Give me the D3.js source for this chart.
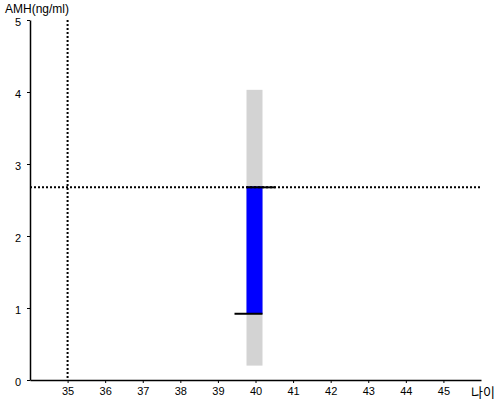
<!DOCTYPE html>
<html>
<head>
<meta charset="utf-8">
<script src="https://cdn.jsdelivr.net/npm/d3@7"></script>
<style>
  body { margin: 0; background: #fff; }
  text { font-family: "Liberation Sans", Arial, sans-serif; }
</style>
</head>
<body>
<div id="viz"></div>
<script>
// values
var ages = [40];
var rangeLow = [0.2],  rangeHigh = [4.03];   // grey band
var valLow = [0.92],   valHigh = [2.69];     // blue bar
var refAge = 35, refAmh = 2.69;
var xTicks = [35, 36, 37, 38, 39, 40, 41, 42, 43, 44, 45];
var yTicks = [0, 1, 2, 3, 4, 5];

var width = 500, height = 400;

var x = d3.scaleLinear().domain([34, 46]).range([30, 481]);
var y = d3.scaleLinear().domain([0, 5]).range([380, 20]);
var barW = 16;

var svg = d3.select('#viz').append('svg')
    .attr('width', width)
    .attr('height', height);

// grey band
svg.selectAll('rect.band').data(ages)
  .enter().append('rect')
    .attr('class', 'band')
    .attr('x', function(d) { return x(d) - barW / 2 - 1; })
    .attr('width', barW)
    .attr('y', function(d, i) { return y(rangeHigh[i]); })
    .attr('height', function(d, i) { return y(rangeLow[i]) - y(rangeHigh[i]); })
    .attr('fill', '#d3d3d3');

// blue bar
svg.selectAll('rect.val').data(ages)
  .enter().append('rect')
    .attr('class', 'val')
    .attr('x', function(d) { return x(d) - barW / 2 - 1; })
    .attr('width', barW)
    .attr('y', function(d, i) { return y(valHigh[i]); })
    .attr('height', function(d, i) { return y(valLow[i]) - y(valHigh[i]); })
    .attr('fill', '#0000ff');

// reference dotted lines
svg.append('line')
    .attr('x1', x(refAge)).attr('x2', x(refAge))
    .attr('y1', y(5)).attr('y2', y(0))
    .attr('stroke', '#000').attr('stroke-width', 2)
    .attr('stroke-dasharray', '2,2');

svg.append('line')
    .attr('x1', x(34)).attr('x2', 481)
    .attr('y1', y(refAmh) + 1).attr('y2', y(refAmh) + 1)
    .attr('stroke', '#000').attr('stroke-width', 2)
    .attr('stroke-dasharray', '2,2');

// black markers at the ends of the bar
ages.forEach(function(d, i) {
    var left = x(d) - barW / 2 - 1;
    svg.append('line')
        .attr('x1', left).attr('x2', left + barW + 13)
        .attr('y1', y(valHigh[i]) + 1).attr('y2', y(valHigh[i]) + 1)
        .attr('stroke', '#000').attr('stroke-width', 2);
    svg.append('line')
        .attr('x1', left - 12).attr('x2', left + barW)
        .attr('y1', y(valLow[i])).attr('y2', y(valLow[i]))
        .attr('stroke', '#000').attr('stroke-width', 2);
});

// axes
var xAxis = svg.append('g')
    .attr('transform', 'translate(0,380)')
    .call(d3.axisBottom(x).tickValues(xTicks).tickSize(3).tickSizeOuter(0).tickPadding(4));

var yAxis = svg.append('g')
    .attr('transform', 'translate(30,0)')
    .call(d3.axisLeft(y).tickValues(yTicks).tickFormat(d3.format('d'))
        .tickSize(3).tickSizeOuter(0).tickPadding(6));

[xAxis, yAxis].forEach(function(g) {
    g.select('.domain').attr('stroke', '#000').attr('stroke-width', 1.5);
    g.selectAll('text').attr('font-size', 11).attr('fill', '#000')
        .style('font-family', '"Liberation Sans", Arial, sans-serif');
});
yAxis.selectAll('text').attr('dy', '0.5em');

svg.append('text')
    .attr('x', 5).attr('y', 13)
    .attr('font-size', 12)
    .text('AMH(ng/ml)');

svg.append('text')
    .attr('x', 471).attr('y', 397)
    .attr('font-size', 13)
    .style('font-family', '"Noto Sans CJK KR", sans-serif')
    .text('나이');
</script>
</body>
</html>
